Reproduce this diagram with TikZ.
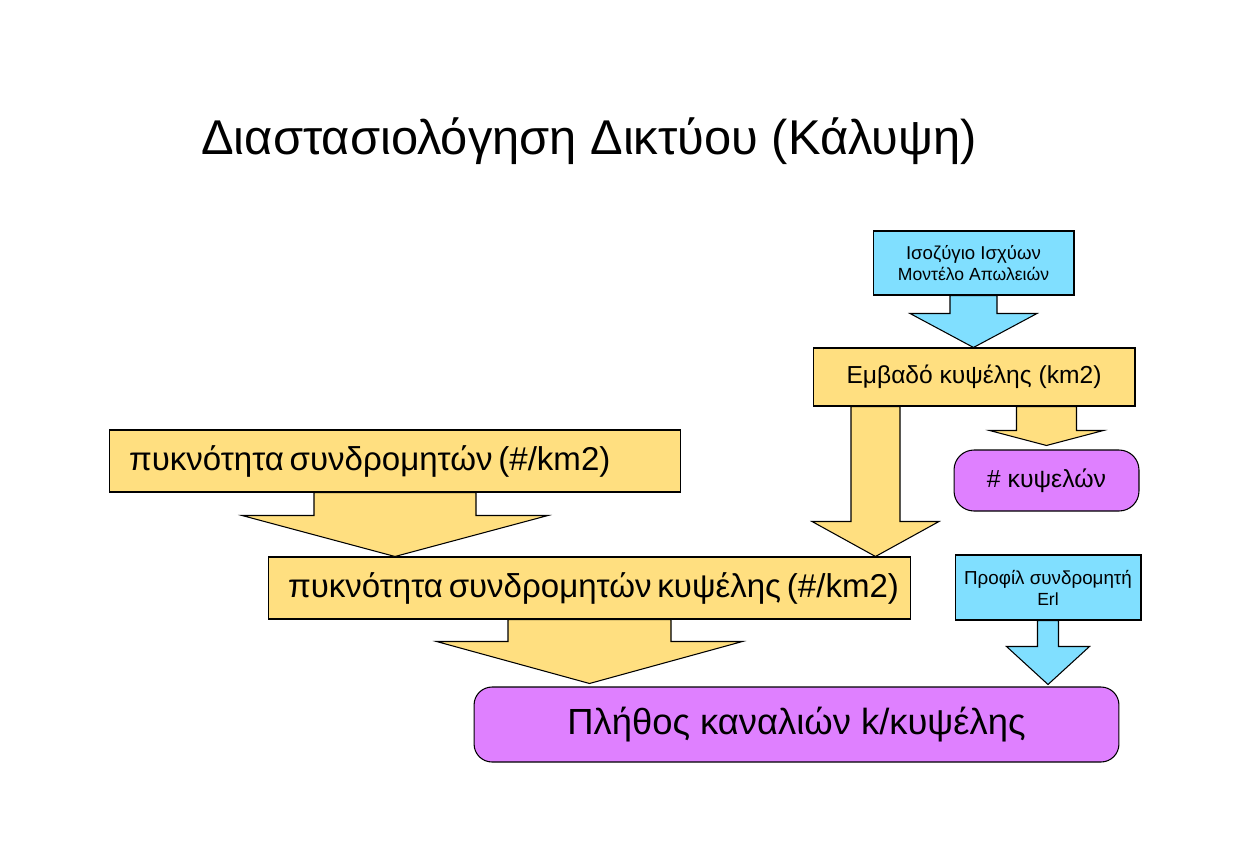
\documentclass[tikz,border=0pt]{standalone}
\usepackage{fontspec}
\setmainfont{Liberation Sans}
\usetikzlibrary{calc}
\definecolor{boxyellow}{HTML}{FFDF80}
\definecolor{boxblue}{HTML}{80DFFF}
\definecolor{boxpink}{HTML}{DF80FF}
\tikzstyle{box}=[draw=black,line width=0.6pt,fill=boxyellow,inner sep=0pt]
\tikzstyle{infobox}=[box,fill=boxblue,align=center]
\tikzstyle{result}=[box,fill=boxpink,rounded corners=0.4cm]
\tikzstyle{wide}=[box,inner xsep=0.4cm,align=left]
\tikzstyle{flow}=[draw=black,line width=0.6pt,fill=boxyellow]
\tikzstyle{infoflow}=[flow,fill=boxblue]
% block arrow: source, target, stem half width, head half width, head length (px)
\newcommand{\fatarrow}[6][flow]{%
  \path[#1] let \p1=(#2), \p2=(#3) in
    (\x1-#4*0.02cm,\y1) -- (\x1+#4*0.02cm,\y1) -- (\x1+#4*0.02cm,\y2+#6*0.02cm)
    -- (\x1+#5*0.02cm,\y2+#6*0.02cm) -- (\x1,\y2)
    -- (\x1-#5*0.02cm,\y2+#6*0.02cm) -- (\x1-#4*0.02cm,\y2+#6*0.02cm) -- cycle;}

\begin{document}
\begin{tikzpicture}[x=0.02cm,y=-0.02cm]
      \useasboundingbox (0,0) rectangle (1254,866);
      \node (title) at (589,141) {\fontsize{27.8}{32}\selectfont Διαστασιολόγηση Δικτύου (Κάλυψη)};
      \node[infobox,minimum width=4.02cm,minimum height=1.28cm] (isoz) at (973.5,263)
        {\fontsize{10.6}{12.5}\selectfont Ισοζύγιο Ισχύων\\ Μοντέλο Απωλειών};
      \node[box,minimum width=6.44cm,minimum height=1.16cm] (emb) at (974,377)
        {\fontsize{14}{16}\selectfont Εμβαδό κυψέλης (km2)};
      \node[result,minimum width=3.7cm,minimum height=1.22cm] (num) at (1046.5,480.5)
        {\fontsize{14.1}{16}\selectfont \# κυψελών};
      \node[wide,text width=10.64cm,minimum height=1.24cm] (dens) at (395,461)
        {\fontsize{18.8}{22}\selectfont \mbox{πυκνότητα συνδρομητών (\#/km2)}};
      \node[wide,text width=12.06cm,minimum height=1.24cm] (cdens) at (589.5,588)
        {\fontsize{18.8}{22}\selectfont \mbox{πυκνότητα συνδρομητών κυψέλης (\#/km2)}};
      \node[infobox,minimum width=3.72cm,minimum height=1.3cm] (prof) at (1048,587.5)
        {\fontsize{10.7}{11}\selectfont Προφίλ συνδρομητή\\ Erl};
      \node[result,minimum width=12.9cm,minimum height=1.5cm,rounded corners=0.36cm] (plithos) at (796.5,724.5)
        {\fontsize{20.7}{24}\selectfont Πλήθος καναλιών k/κυψέλης};

      \fatarrow[infoflow]{isoz.south}{emb.north}{23.5}{63.5}{34}
      \fatarrow{emb.south -| num.north}{$(num.north)+(0,-4)$}{30}{57}{15}
      \fatarrow{$(emb.south)+(-98.5,0)$}{cdens.north}{24.5}{63.5}{35}
      \fatarrow{dens.south}{cdens.north}{81}{153}{41}
      \fatarrow{cdens.south}{$(plithos.north)+(0,-3)$}{81.5}{153}{42}
      \fatarrow[infoflow]{prof.south}{$(plithos.north)+(0,-2)$}{10.5}{41.5}{38}
\end{tikzpicture}
\end{document}
